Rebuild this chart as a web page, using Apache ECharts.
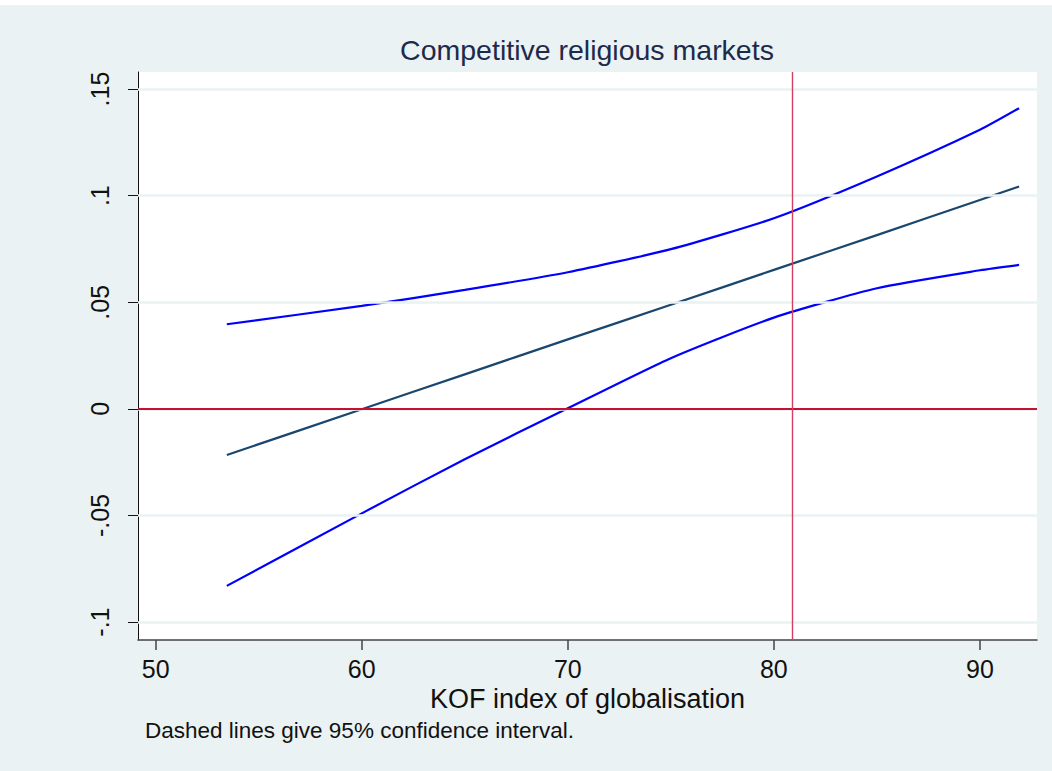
<!DOCTYPE html>
<html>
<head>
<meta charset="utf-8">
<script src="https://cdn.jsdelivr.net/npm/echarts@6/dist/echarts.min.js"></script>
<style>
  html, body { margin: 0; padding: 0; background: #ffffff; }
  #chart { position: absolute; left: 0; top: 0; width: 1052px; height: 771px; }
</style>
</head>
<body>
<div id="chart"></div>
<script>
// KOF index values at which the marginal effect was evaluated
const kof = [53.45, 60, 65, 70, 75, 80, 85, 90, 91.9];
// Marginal effect and its 95% confidence bounds
const effect  = [-0.0216, -0.0002, 0.0162, 0.0326, 0.0488, 0.0652, 0.0815, 0.0980, 0.1043];
const ciUpper = [0.0397, 0.0483, 0.0558, 0.0641, 0.0749, 0.0894, 0.1090, 0.1309, 0.1410];
const ciLower = [-0.0830, -0.0490, -0.0236, 0.0003, 0.0238, 0.0428, 0.0566, 0.0650, 0.0675];

// Axis ticks
const xTicks = [50, 60, 70, 80, 90];
const yTicks = [-0.1, -0.05, 0, 0.05, 0.1, 0.15];
const yTickLabels = ['-.1', '-.05', '0', '.05', '.1', '.15'];

// Reference lines
const zeroLine = 0;
const kofMarker = 80.9;

const FONT = '"Liberation Sans", Arial, sans-serif';

const pairs = (ys) => kof.map((x, i) => [x, ys[i]]);
const yLabelOf = (v) => {
  const i = yTicks.findIndex(t => Math.abs(t - v) < 1e-9);
  return i >= 0 ? yTickLabels[i] : '';
};

const chart = echarts.init(document.getElementById('chart'), null, { renderer: 'svg' });

const curve = (name, ys, color, z) => ({
  name, type: 'line', data: pairs(ys), smooth: 0.2,
  showSymbol: false, z, lineStyle: { color, width: 2.2 }
});

chart.setOption({
  backgroundColor: '#EAF2F3',
  animation: false,
  grid: {
    left: 138, top: 72, width: 899, height: 568,
    show: true, backgroundColor: '#ffffff', borderWidth: 0
  },
  graphic: [
    { type: 'rect', left: 0, top: 0, shape: { width: 1052, height: 5 }, style: { fill: '#ffffff' }, silent: true },
    {
      type: 'text', x: 587, y: 35,
      style: { text: 'Competitive religious markets', font: '28.5px ' + FONT, fill: '#1E2A4A', textAlign: 'center', textVerticalAlign: 'top' }
    },
    {
      type: 'text', x: 145, y: 719,
      style: { text: 'Dashed lines give 95% confidence interval.', font: '22.5px ' + FONT, fill: '#111111', textAlign: 'left', textVerticalAlign: 'top' }
    }
  ],
  xAxis: {
    type: 'value',
    min: 49.14, max: 92.77,
    name: 'KOF index of globalisation',
    nameLocation: 'middle',
    nameGap: 40,
    nameTextStyle: { fontFamily: FONT, fontSize: 27, color: '#111111' },
    axisLine: { show: true, onZero: false, lineStyle: { color: '#444444', width: 1.5 } },
    axisTick: { show: true, inside: false, length: 10, customValues: xTicks, lineStyle: { color: '#444444', width: 1.5 } },
    axisLabel: { show: true, customValues: xTicks, margin: 16, fontFamily: FONT, fontSize: 25, color: '#111111' },
    splitLine: { show: false }
  },
  yAxis: {
    type: 'value',
    min: -0.1084, max: 0.158,
    axisLine: { show: true, onZero: false, lineStyle: { color: '#111111', width: 1 } },
    axisTick: { show: true, inside: false, length: 10, customValues: yTicks, lineStyle: { color: '#111111', width: 1 } },
    axisLabel: {
      show: true, customValues: yTicks, rotate: 90, margin: 26,
      fontFamily: FONT, fontSize: 25, color: '#111111',
      formatter: yLabelOf
    },
    splitLine: { show: false }
  },
  series: [
    {
      // horizontal gridlines at the y ticks
      name: 'grid', type: 'line', data: [], z: 1, silent: true,
      markLine: {
        silent: true, symbol: 'none', label: { show: false },
        lineStyle: { color: '#EAF2F3', width: 2.5, type: 'solid' },
        data: yTicks.map(v => ({ yAxis: v }))
      }
    },
    {
      name: 'reference', type: 'line', data: [], z: 2, silent: true,
      markLine: {
        silent: true, symbol: 'none', label: { show: false },
        data: [
          { yAxis: zeroLine, lineStyle: { color: '#C8102E', width: 2.2, type: 'solid' } },
          { xAxis: kofMarker, lineStyle: { color: '#D04060', width: 1.4, type: 'solid' } }
        ]
      }
    },
    curve('Upper bound', ciUpper, '#0000FF', 3),
    curve('Lower bound', ciLower, '#0000FF', 3),
    curve('Marginal effect', effect, '#1A476F', 4)
  ]
});
</script>
</body>
</html>
